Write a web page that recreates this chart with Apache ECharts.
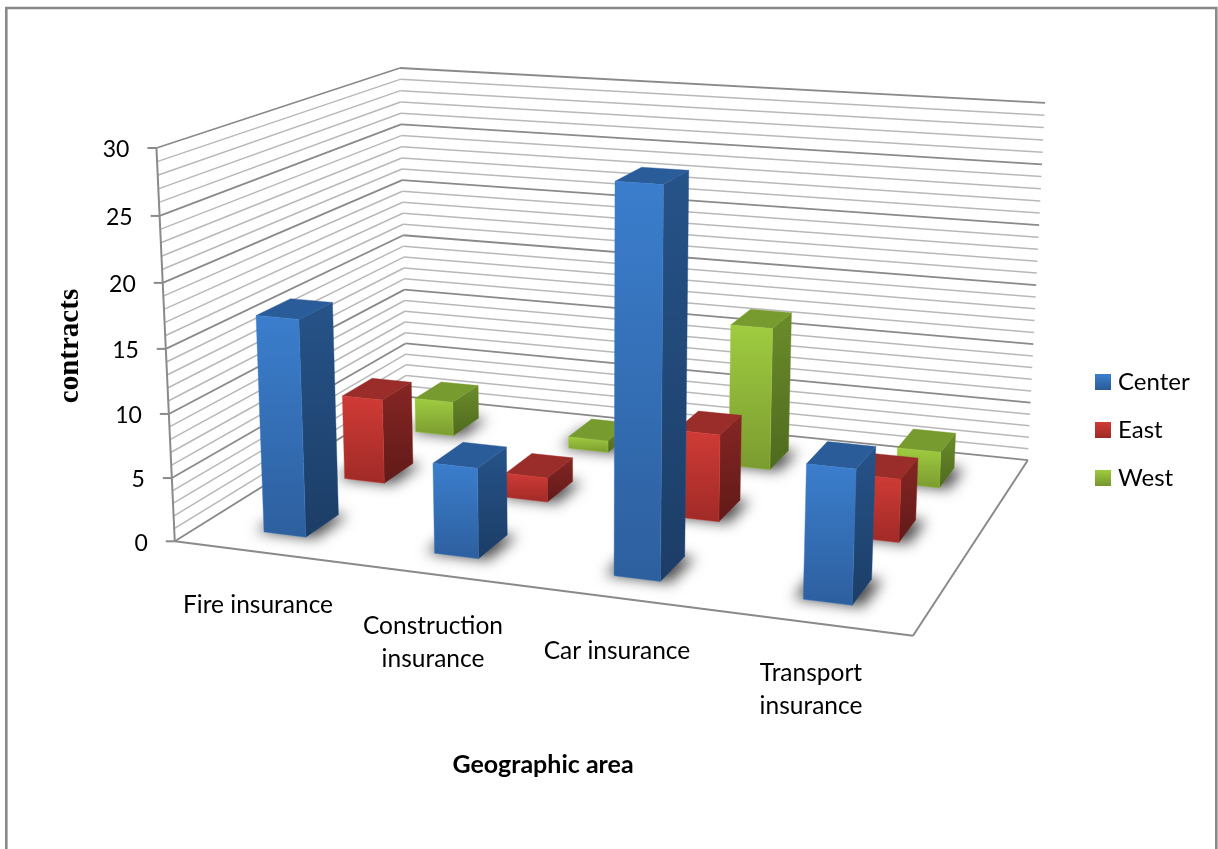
<!DOCTYPE html>
<html>
<head>
<meta charset="utf-8">
<style>html,body{margin:0;padding:0;background:#fff}#chart{width:1218px;height:849px}</style>
<script src="https://cdn.jsdelivr.net/npm/echarts@6/dist/echarts.min.js"></script>
</head>
<body>
<div id="chart"></div>
<script>
// Contracts per insurance type and geographic area
var categories = ['Fire insurance', 'Construction\ninsurance', 'Car insurance', 'Transport\ninsurance'];
var center = [17, 7, 29, 10];
var east = [7, 2, 7, 5];
var west = [3, 1, 12, 3];
var valueTicks = [0, 5, 10, 15, 20, 25, 30];
var seriesNames = ['Center', 'East', 'West'];

// Camera calibration: corners of the plot box (u along categories, v into depth, w up) and where they land.
var anchors = [
  [0, 0, 0, 175, 541], [0, 0, 0.5, 166, 349], [0, 0, 1, 156, 148],
  [0, 1, 0, 406, 397], [0, 1, 0.5, 404, 235], [0, 1, 1, 400, 68],
  [1, 0, 0, 913, 636],
  [1, 1, 0, 1028, 460], [1, 1, 0.5, 1036, 285], [1, 1, 1, 1045, 103]
];
var BAR_WIDTH = 0.25;   // share of a category band
var BAR_DEPTH = 0.40;   // share of a depth row
var ROWS = 3;
var MAJOR = '#8a8a8a', MINOR = '#b8b8b8';
var OFFSCREEN = 3000;   // shadow casters sit outside the canvas so only the blur shows

function solveCamera(pts) {
  var A = [], b = [], i, j, k;
  pts.forEach(function (p) {
    var X = p[0], Y = p[1], Z = p[2], x = p[3] / 1000, y = p[4] / 1000;
    A.push([X, Y, Z, 1, 0, 0, 0, 0, -x * X, -x * Y, -x * Z]); b.push(x);
    A.push([0, 0, 0, 0, X, Y, Z, 1, -y * X, -y * Y, -y * Z]); b.push(y);
  });
  var n = 11, M = [];
  for (i = 0; i < n; i++) {
    M[i] = [];
    for (j = 0; j <= n; j++) {
      var s = 0;
      for (k = 0; k < A.length; k++) s += A[k][i] * (j < n ? A[k][j] : b[k]);
      M[i][j] = s;
    }
  }
  for (i = 0; i < n; i++) {
    var piv = i;
    for (j = i + 1; j < n; j++) if (Math.abs(M[j][i]) > Math.abs(M[piv][i])) piv = j;
    var t = M[i]; M[i] = M[piv]; M[piv] = t;
    for (j = 0; j < n; j++) {
      if (j === i) continue;
      var f = M[j][i] / M[i][i];
      for (k = i; k <= n; k++) M[j][k] -= f * M[i][k];
    }
  }
  var p = [];
  for (i = 0; i < n; i++) p[i] = M[i][n] / M[i][i];
  return p;
}
var cam = solveCamera(anchors);
function project(u, v, w) {
  var d = cam[8] * u + cam[9] * v + cam[10] * w + 1;
  return [1000 * (cam[0] * u + cam[1] * v + cam[2] * w + cam[3]) / d,
          1000 * (cam[4] * u + cam[5] * v + cam[6] * w + cam[7]) / d];
}

function grad(top, bottom) {
  return new echarts.graphic.LinearGradient(0, 0, 0, 1, [{ offset: 0, color: top }, { offset: 1, color: bottom }]);
}
var palettes = [
  { legend: ['#3c7fce', '#2a5a96'], front: ['#3b7ecd', '#2d5f9e'], side: ['#265389', '#1c3d66'], top: '#2a5c99' },
  { legend: ['#d03c36', '#9e2a27'], front: ['#d03b36', '#a02a27'], side: ['#852624', '#611a18'], top: '#9a2c29' },
  { legend: ['#9fcc40', '#76952d'], front: ['#9fcc40', '#7b9b30'], side: ['#6b8c2b', '#4e6a1e'], top: '#789b30' }
];

// Normalised (u, w) of a data point, taken from the hidden cartesian scales.
function toBox(params, api, cat, val) {
  var cs = params.coordSys, pt = api.coord([cat, val]);
  return { u: (pt[0] - cs.x) / cs.width, w: (cs.y + cs.height - pt[1]) / cs.height,
           bw: api.size([1, 0])[0] / cs.width * BAR_WIDTH };
}
function poly(points, style) {
  return { type: 'polygon', shape: { points: points }, style: style };
}

function barRenderer(row) {
  var pal = palettes[row];
  var v0 = (row + 0.5 - BAR_DEPTH / 2) / ROWS, v1 = (row + 0.5 + BAR_DEPTH / 2) / ROWS;
  return function (params, api) {
    var b = toBox(params, api, api.value(0), api.value(1));
    var u0 = b.u - b.bw / 2, u1 = b.u + b.bw / 2, w = b.w;
    var frontFill = grad(pal.front[0], pal.front[1]), sideFill = grad(pal.side[0], pal.side[1]);
    return { type: 'group', children: [
      poly([project(u1, v0, 0), project(u1, v1, 0), project(u1, v1, w), project(u1, v0, w)],
           { fill: sideFill, stroke: pal.side[0], lineWidth: 0.4 }),
      poly([project(u0, v0, w), project(u1, v0, w), project(u1, v1, w), project(u0, v1, w)],
           { fill: pal.top, stroke: pal.top, lineWidth: 0.4 }),
      poly([project(u0, v0, 0), project(u1, v0, 0), project(u1, v0, w), project(u0, v0, w)],
           { fill: frontFill, stroke: pal.front[0], lineWidth: 0.4 })
    ] };
  };
}

// Soft contact shadow on the floor under each bar.
function shadowRenderer(params, api) {
  var row = api.value(2);
  var d = BAR_DEPTH / 2;
  var v0 = (row + 0.5 - d) / ROWS, v1 = (row + 0.5 + d) / ROWS;
  var b = toBox(params, api, api.value(0), 0);
  var u0 = b.u - b.bw / 2 - 0.012, u1 = b.u + b.bw / 2 + 0.014;
  var pts = [project(u0, v0, 0), project(u1, v0, 0), project(u1, v1, 0), project(u0, v1, 0)]
    .map(function (p) { return [p[0] - OFFSCREEN, p[1]]; });
  return poly(pts, { fill: '#000', shadowBlur: 14, shadowColor: 'rgba(0,0,0,0.7)',
                     shadowOffsetX: OFFSCREEN, shadowOffsetY: 0 });
}

function line(a, b, color, width) {
  return { type: 'line', shape: { x1: a[0], y1: a[1], x2: b[0], y2: b[1] },
           style: { stroke: color, lineWidth: width } };
}
var catLabelAnchors = [[258, 605], [433, 643], [617, 651], [811, 690]];

function frameRenderer(params, api) {
  var kids = [], cs = params.coordSys;
  for (var val = 0; val <= 30; val++) {
    var w = (cs.y + cs.height - api.coord([0, val])[1]) / cs.height;
    var major = val % 5 === 0;
    var c = major ? MAJOR : MINOR, lw = major ? 1.8 : 1.5;
    kids.push(line(project(0, 0, w), project(0, 1, w), c, lw));
    kids.push(line(project(0, 1, w), project(1, 1, w), c, lw));
  }
  valueTicks.forEach(function (t) {
    var w = (cs.y + cs.height - api.coord([0, t])[1]) / cs.height, p = project(0, 0, w);
    kids.push(line([p[0] - 9, p[1]], p, MAJOR, 2));
    kids.push({ type: 'text', style: { text: String(t), x: p[0] - 27, y: p[1] + 2, align: 'right',
      verticalAlign: 'middle', fill: '#000', font: '23px Lato' } });
  });
  kids.push(line(project(0, 0, 0), project(0, 0, 1), MAJOR, 2));
  kids.push(line(project(0, 0, 0), project(1, 0, 0), MAJOR, 2));
  kids.push(line(project(1, 0, 0), project(1, 1, 0), MAJOR, 2));
  categories.forEach(function (name, i) {
    kids.push({ type: 'text', style: { text: name, x: catLabelAnchors[i][0], y: catLabelAnchors[i][1],
      align: 'center', verticalAlign: 'middle', fill: '#000', font: '24.5px Lato', lineHeight: 33 } });
  });
  return { type: 'group', children: kids };
}

function barData(values) {
  return values.map(function (v, i) { return [i, v]; });
}
var shadowData = [];
[center, east, west].forEach(function (vals, row) {
  vals.forEach(function (v, i) { shadowData.push([i, v, row]); });
});

var chart = echarts.init(document.getElementById('chart'), null, { renderer: 'canvas' });
chart.setOption({
  animation: false,
  backgroundColor: '#fff',
  grid: { left: 100, top: 100, width: 800, height: 500, show: false },
  xAxis: { type: 'category', data: categories, show: false },
  yAxis: { type: 'value', min: 0, max: 30, interval: 5, show: false },
  legend: {
    data: seriesNames, orient: 'vertical', left: 1095, top: 370, padding: 0,
    itemWidth: 16, itemHeight: 16, itemGap: 24, icon: 'rect', selectedMode: false,
    textStyle: { fontFamily: 'Lato', fontSize: 24, lineHeight: 24, color: '#000', padding: [0, 0, 0, 2] }
  },
  graphic: [
    { type: 'rect', silent: true, shape: { x: 6.3, y: 8, width: 1210, height: 860 },
      style: { fill: 'none', stroke: '#888888', lineWidth: 2.6 } },
    { type: 'text', silent: true, x: 71, y: 346, rotation: Math.PI / 2,
      style: { text: 'contracts', align: 'center', verticalAlign: 'middle', fill: '#000',
               font: 'bold 29px "Liberation Serif"' } },
    { type: 'text', silent: true, x: 543, y: 765,
      style: { text: 'Geographic area', align: 'center', verticalAlign: 'middle', fill: '#000',
               font: 'bold 25px Lato' } }
  ],
  series: [
    { type: 'custom', name: 'frame', coordinateSystem: 'cartesian2d', clip: false, silent: true, z: 1,
      data: [[0, 0]], renderItem: frameRenderer },
    { type: 'custom', name: 'floor shadow', coordinateSystem: 'cartesian2d', clip: false, silent: true, z: 2,
      data: shadowData, renderItem: shadowRenderer },
    { type: 'custom', name: 'Center', coordinateSystem: 'cartesian2d', clip: false, z: 5,
      itemStyle: { color: grad(palettes[0].legend[0], palettes[0].legend[1]) },
      data: barData(center), renderItem: barRenderer(0) },
    { type: 'custom', name: 'East', coordinateSystem: 'cartesian2d', clip: false, z: 4,
      itemStyle: { color: grad(palettes[1].legend[0], palettes[1].legend[1]) },
      data: barData(east), renderItem: barRenderer(1) },
    { type: 'custom', name: 'West', coordinateSystem: 'cartesian2d', clip: false, z: 3,
      itemStyle: { color: grad(palettes[2].legend[0], palettes[2].legend[1]) },
      data: barData(west), renderItem: barRenderer(2) }
  ]
});
</script>
</body>
</html>
